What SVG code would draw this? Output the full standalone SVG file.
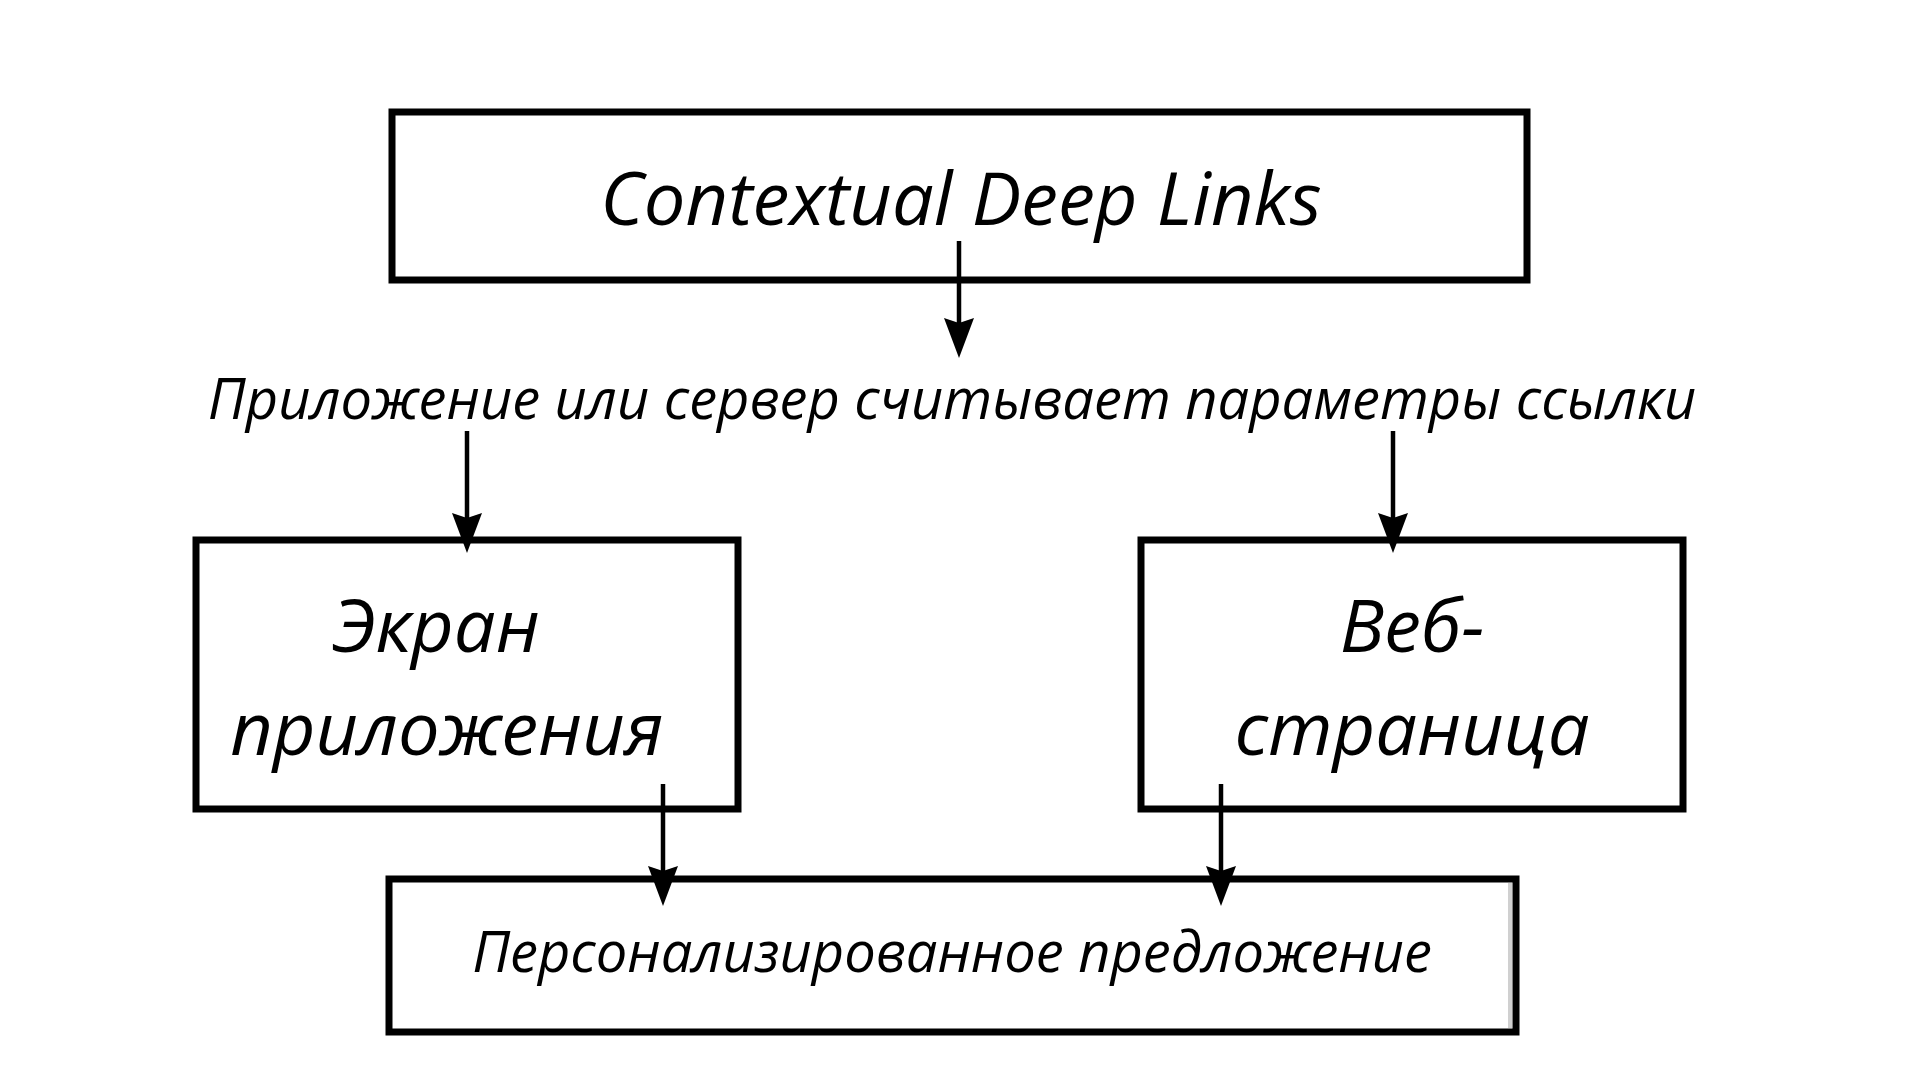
<svg xmlns="http://www.w3.org/2000/svg" width="1920" height="1080" viewBox="0 0 1920 1080">
  <style>
    .box { fill: #ffffff; stroke: #000000; stroke-width: 7; }
    .lbl { font-family: "Open Sans", "Noto Sans", "DejaVu Sans", sans-serif; font-style: italic; fill: #000000; }
    .big { font-size: 74px; }
    .mid { font-size: 56px; }
    .conn { stroke: #000000; stroke-width: 4.5; fill: none; }
  </style>
  <defs>
    <marker id="arrow" viewBox="0 0 40 30" refX="8" refY="15" markerWidth="40" markerHeight="30" markerUnits="userSpaceOnUse" orient="auto">
      <path d="M0,0 L40,15 L0,30 L5,15 z" fill="#000000"/>
    </marker>
  </defs>
  <rect width="1920" height="1080" fill="#ffffff"/>

  <g id="node-contextual">
    <rect class="box" x="392" y="112" width="1135" height="168"/>
    <text class="lbl big" x="961" y="225" text-anchor="middle">Contextual Deep Links</text>
  </g>

  <g id="label-reads">
    <text class="lbl mid" x="952" y="419" text-anchor="middle">Приложение или сервер считывает параметры ссылки</text>
  </g>

  <g id="node-app-screen">
    <rect class="box" x="196" y="540" width="542" height="269"/>
    <text class="lbl big" x="436" y="652" text-anchor="middle">Экран</text>
    <text class="lbl big" x="447" y="755" text-anchor="middle">приложения</text>
  </g>

  <g id="node-web-page">
    <rect class="box" x="1141" y="540" width="542" height="269"/>
    <text class="lbl big" x="1412" y="652" text-anchor="middle">Веб-</text>
    <text class="lbl big" x="1412" y="755" text-anchor="middle">страница</text>
  </g>

  <g id="node-offer">
    <rect class="box" x="389" y="879" width="1127" height="153"/>
    <rect x="1508" y="883" width="4" height="145" fill="#d0d0d0"/>
    <text class="lbl mid" x="952" y="972" text-anchor="middle">Персонализированное предложение</text>
  </g>

  <g id="connectors">
    <line class="conn" x1="959" y1="241" x2="959" y2="326" marker-end="url(#arrow)"/>
    <line class="conn" x1="467" y1="431" x2="467" y2="521" marker-end="url(#arrow)"/>
    <line class="conn" x1="1393" y1="431" x2="1393" y2="521" marker-end="url(#arrow)"/>
    <line class="conn" x1="663" y1="784" x2="663" y2="874" marker-end="url(#arrow)"/>
    <line class="conn" x1="1221" y1="784" x2="1221" y2="874" marker-end="url(#arrow)"/>
  </g>
</svg>
